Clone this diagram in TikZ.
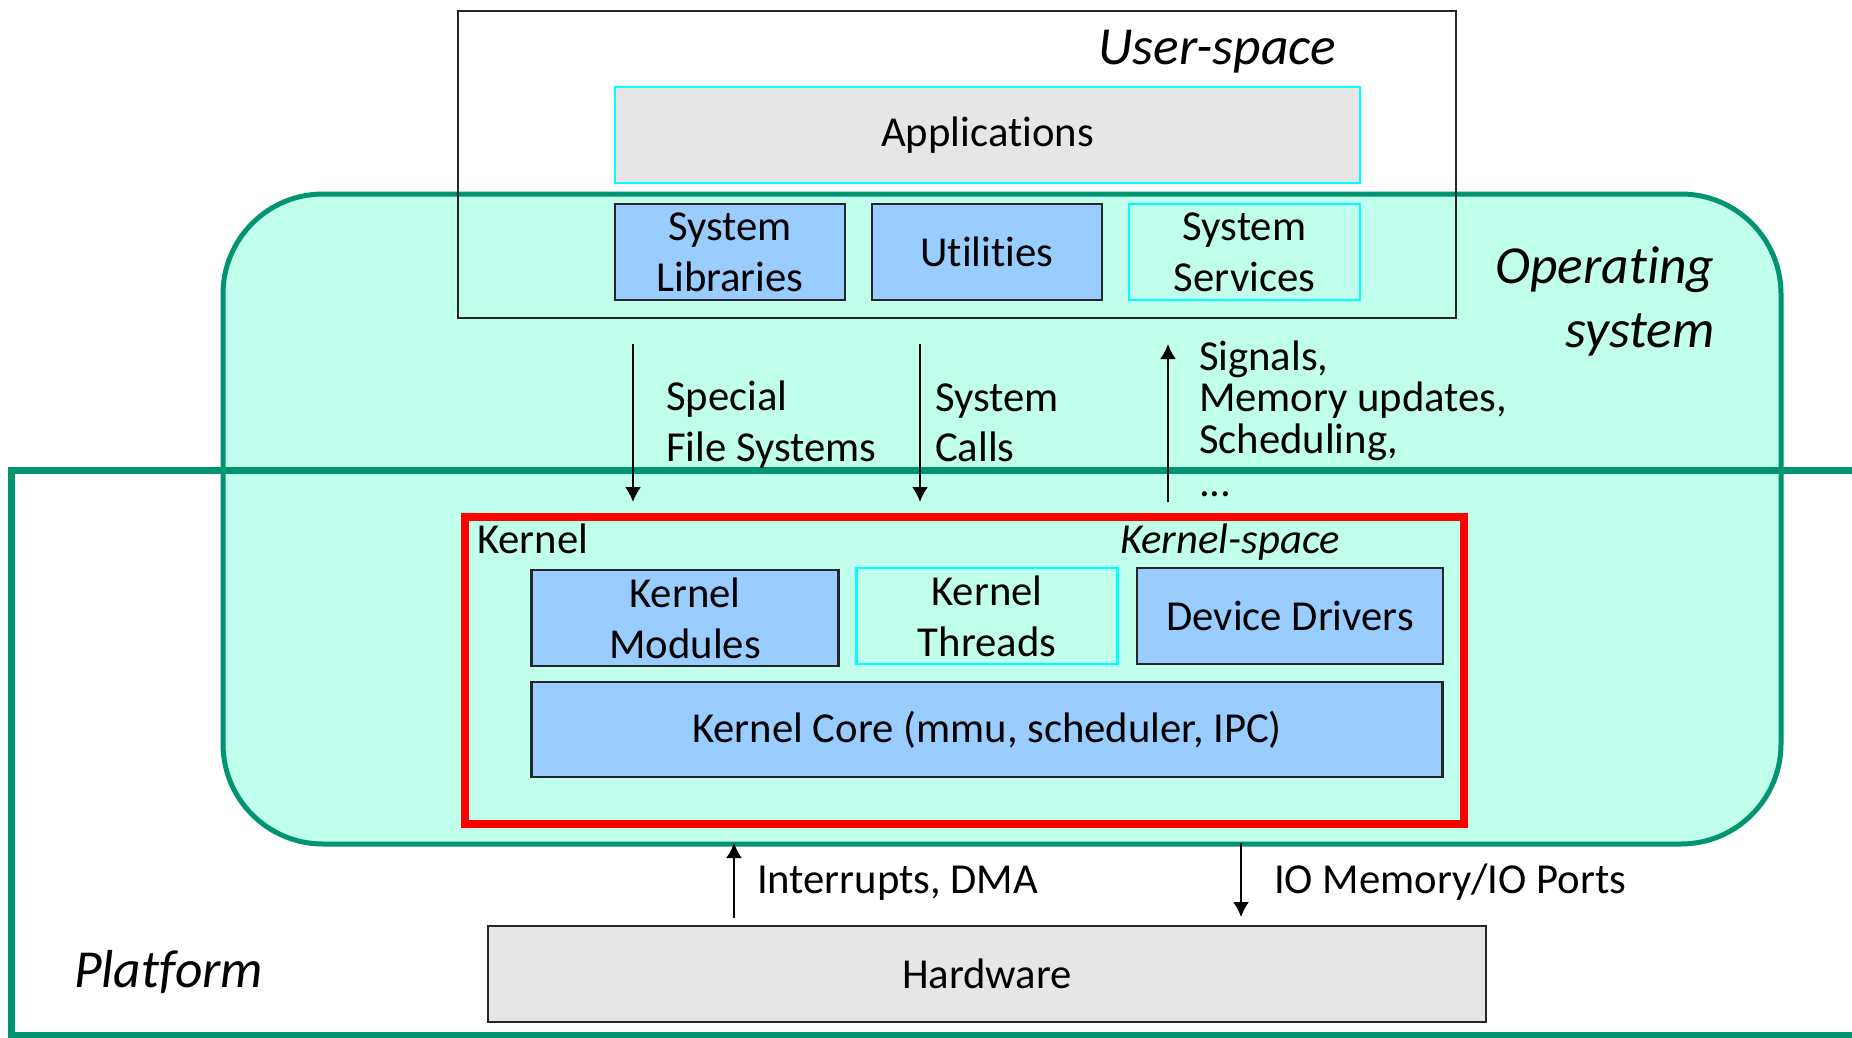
\documentclass[tikz,border=0pt]{standalone}
\usepackage{fontspec}
\setmainfont[Ligatures=NoCommon]{Carlito}
\usetikzlibrary{arrows.meta}
\definecolor{osfill}{RGB}{192,255,236}
\definecolor{osedge}{RGB}{0,148,112}
\definecolor{boxblue}{RGB}{153,204,255}
\definecolor{boxgray}{RGB}{230,230,230}
\definecolor{cyanedge}{RGB}{0,255,255}
\begin{document}
\begin{tikzpicture}[x=1pt,y=-1pt,
  txt/.style={font=\fontsize{42.7}{51}\selectfont, inner sep=0pt, outer sep=0pt},
  txtit/.style={font=\fontsize{42.7}{51}\selectfont\itshape, inner sep=0pt, outer sep=0pt},
  big/.style={font=\fontsize{53.5}{64}\selectfont\itshape, inner sep=0pt, outer sep=0pt},
  boxbase/.style={txt, align=center, minimum height=96pt},
  bluebox/.style={boxbase, draw=black!85, line width=2.5pt, fill=boxblue},
  cyanbox/.style={boxbase, draw=cyanedge, line width=2.5pt},
  graybox/.style={boxbase, draw=black!85, line width=2.5pt, fill=boxgray},
  frame/.style={inner sep=0pt, outer sep=0pt},
  arr/.style={line width=2pt, -{Latex[length=15pt,width=16pt]}}
]
\useasboundingbox (0,0) rectangle (1852,1038);
\clip (0,0) rectangle (1852,1038);

% Operating system area
\node[frame, draw=osedge, fill=osfill, line width=5pt, rounded corners=100pt,
      minimum width=1558pt, minimum height=650pt] (os) at (1002,519) {};
% Platform frame
\node[frame, draw=osedge, line width=7pt,
      minimum width=1889pt, minimum height=565pt] (platform) at (955.5,752.5) {};
% User-space frame
\node[frame, draw=black!85, line width=2pt,
      minimum width=998pt, minimum height=307pt] (userspace) at (957,164.5) {};
% Kernel frame
\node[frame, draw=red, line width=8pt,
      minimum width=999pt, minimum height=307pt] (kernel) at (964.5,670.5) {};

% User-space boxes
\node[graybox, draw=cyanedge, minimum width=745pt] (apps) at (987.5,135) {Applications};
\node[bluebox, minimum width=230pt] (syslib) at (730,252) {System\\Libraries};
\node[bluebox, minimum width=230pt] (utils) at (987,252) {Utilities};
\node[cyanbox, minimum width=231pt] (syssvc) at (1244.5,252) {System\\Services};

% Kernel boxes
\node[bluebox, minimum width=307pt] (kmod) at (685,618) {Kernel\\Modules};
\node[cyanbox, minimum width=261pt] (kthr) at (987,616) {Kernel\\Threads};
\node[bluebox, minimum width=306pt] (ddrv) at (1290,616) {Device Drivers};
\node[bluebox, minimum width=911pt, minimum height=95pt] (kcore) at (987,729.5) {Kernel Core (mmu, scheduler, IPC)};

% Hardware
\node[graybox, minimum width=998pt] (hw) at (987,974) {Hardware};

% Arrows
\coordinate (sfsA) at (633,344); \coordinate (sfsB) at (633,502);
\coordinate (scA) at (920,344);  \coordinate (scB) at (920,502);
\coordinate (sigA) at (1168,502); \coordinate (sigB) at (1168,344);
\coordinate (intA) at (734,918); \coordinate (intB) at (734,843);
\coordinate (ioA) at (1241,843); \coordinate (ioB) at (1241,917);
\draw[arr] (sfsA) -- (sfsB);
\draw[arr] (scA) -- (scB);
\draw[arr] (sigA) -- (sigB);
\draw[arr] (intA) -- (intB);
\draw[arr] (ioA) -- (ioB);

% Labels
\node[big, anchor=base east] (uslbl) at (1336,65) {User-space};
\node[big, anchor=base east] (oslbl1) at (1714.5,283) {Operating};
\node[big, anchor=base east] (oslbl2) at (1714.5,347) {system};
\node[big, anchor=base west] (pflbl) at (74,987) {Platform};

\node[txt, anchor=base west] (sfs1) at (666,410) {Special};
\node[txt, anchor=base west] (sfs2) at (666,461.7) {File Systems};
\node[txt, anchor=base west] (sc1) at (935,411.7) {System};
\node[txt, anchor=base west] (sc2) at (935,461.7) {Calls};
\node[txt, anchor=base west] (sig1) at (1199,370) {Signals,};
\node[txt, anchor=base west] (sig2) at (1199,411.7) {Memory updates,};
\node[txt, anchor=base west] (sig3) at (1199,453) {Scheduling,};
\node[txt, anchor=base west] (sig4) at (1199,496.7) {...};

\node[txt, anchor=base west] (klbl) at (477,553) {Kernel};
\node[txtit, anchor=base east] (kslbl) at (1340,553) {Kernel-space};

\node[txt, anchor=base west] (intlbl) at (757,893) {Interrupts, DMA};
\node[txt, anchor=base west] (iolbl) at (1274,893) {IO Memory/IO Ports};
\end{tikzpicture}
\end{document}
